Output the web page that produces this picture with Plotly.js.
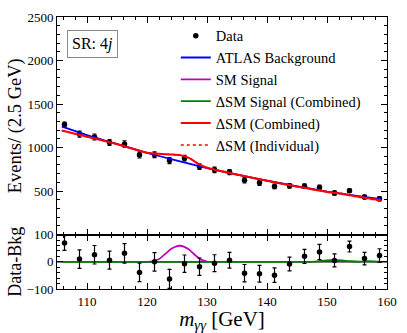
<!DOCTYPE html>
<html>
<head>
<meta charset="utf-8">
<script src="https://cdn.plot.ly/plotly-3.0.1.min.js"></script>
<style>
  html, body { margin: 0; padding: 0; background: #fff; }
  #plot { width: 407px; height: 333px; }
</style>
</head>
<body>
<div id="plot"></div>
<script>
// Bin centres (2.5 GeV bins) and values
let massBins = [106.25, 108.75, 111.25, 113.75, 116.25, 118.75, 121.25, 123.75, 126.25, 128.75, 131.25,
                133.75, 136.25, 138.75, 141.25, 143.75, 146.25, 148.75, 151.25, 153.75, 156.25, 158.75];
let eventCounts = [1266, 1155, 1122, 1059, 1042, 914, 918, 851, 878, 780, 744,
                   719, 625, 596, 554, 560, 556, 540, 478, 505, 432, 413];
let residuals = [69, 10, 26, 6, 31, -39, 0, -63, -7, -18, -5,
                 6, -42, -44, -49, -8, 20, 36, 5, 56, 12, 23];
let errors = [27, 34, 34, 33, 36, 34, 34, 35, 32, 32, 31,
              29, 32, 31, 27, 25, 26, 28, 24, 20, 23, 25];

// Fit curves (top panel)
let bkgMass = [105.8, 110, 115, 120, 125, 130, 135, 140, 145, 150, 155, 159];
let bkgCurve = [1240, 1143, 1040, 940, 850, 765, 690, 620, 555, 495, 445, 408];
let combMass = [105.8, 110, 115, 120, 122, 124, 125.5, 127, 128.5, 130, 135, 140, 145, 150, 152, 155, 159];
let combinedCurve = [1196, 1125, 1040, 940, 928, 921, 913, 882, 815, 768, 690, 618, 552, 490, 472, 438, 395];
let individualCurve = [1196, 1125, 1040, 940, 928, 921, 913, 882, 815, 768, 690, 618, 550, 498, 480, 432, 386];

// Signal curves (residual panel)
let smMass = [119, 120, 121, 122, 123, 124, 125, 125.5, 126, 127, 128, 129, 130];
let smSignal = [0, 0, 2, 10, 28, 47, 58, 59, 57, 45, 25, 8, 1];
let dsmMass = [105.8, 146, 148, 149.5, 151, 152.5, 154, 155.5, 157, 158.5, 159];
let dsmSignal = [0, 0, 1, 4, 7, 5, 2, 1, 2, 1, 0];

let serif = "Liberation Serif";

let traces = [
    {
        x: massBins, y: eventCounts, mode: 'markers', name: 'Data',
        marker: { color: 'black', size: 5.5 },
        error_y: { type: 'data', array: errors, color: 'black', thickness: 1.2, width: 2 },
        xaxis: 'x', yaxis: 'y'
    },
    {
        x: bkgMass, y: bkgCurve, mode: 'lines', name: 'ATLAS Background',
        line: { color: 'blue', width: 1.8, shape: 'spline', smoothing: 0.6 }, xaxis: 'x', yaxis: 'y'
    },
    {
        x: smMass, y: smSignal, mode: 'lines', name: 'SM Signal',
        line: { color: '#c000c0', width: 1.8, shape: 'spline', smoothing: 0.6 },
        xaxis: 'x2', yaxis: 'y2'
    },
    {
        x: dsmMass, y: dsmSignal, mode: 'lines', name: '\u0394SM Signal (Combined)',
        line: { color: 'green', width: 1.8, shape: 'spline', smoothing: 0.6 }, xaxis: 'x2', yaxis: 'y2'
    },
    {
        x: combMass, y: combinedCurve, mode: 'lines', name: '\u0394SM (Combined)',
        line: { color: 'red', width: 2, shape: 'spline', smoothing: 0.6 }, xaxis: 'x', yaxis: 'y'
    },
    {
        x: combMass, y: individualCurve, mode: 'lines', name: '\u0394SM (Individual)',
        line: { color: 'red', width: 1.5, dash: 'dot', shape: 'spline', smoothing: 0.6 }, xaxis: 'x', yaxis: 'y'
    },
    {
        x: massBins, y: residuals, mode: 'markers', showlegend: false,
        marker: { color: 'black', size: 5.5 },
        error_y: { type: 'data', array: errors, color: 'black', thickness: 1.2, width: 2 },
        xaxis: 'x2', yaxis: 'y2'
    }
];

let axisCommon = {
    showline: true, linecolor: 'black', linewidth: 1, mirror: 'ticks',
    ticks: 'inside', ticklen: 6, tickcolor: 'black', showgrid: false, zeroline: false,
    tickfont: { family: serif, size: 13, color: 'black' }
};

let layout = {
    width: 407, height: 333,
    margin: { l: 57, r: 20, t: 17, b: 44 },
    paper_bgcolor: 'white', plot_bgcolor: 'white',
    font: { family: serif, color: 'black' },
    xaxis: Object.assign({}, axisCommon, {
        range: [105, 160], dtick: 10, tick0: 100,
        minor: { ticks: 'inside', ticklen: 3, dtick: 2, tickcolor: 'black' },
        showticklabels: false, anchor: 'y', matches: 'x2'
    }),
    yaxis: Object.assign({}, axisCommon, {
        domain: [0.2, 1], range: [0, 2500], tickvals: [500, 1000, 1500, 2000, 2500],
        minor: { ticks: 'inside', ticklen: 3, dtick: 100, tick0: 0, tickcolor: 'black' },
        title: { text: 'Events/ (2.5 GeV)', font: { family: serif, size: 18.5 }, standoff: 0 }
    }),
    xaxis2: Object.assign({}, axisCommon, {
        range: [105, 160], dtick: 10, tick0: 100,
        minor: { ticks: 'inside', ticklen: 3, dtick: 2, tickcolor: 'black' },
        anchor: 'y2',
        title: { text: '<i>m</i><sub><i>\u03b3\u03b3</i></sub> [GeV]', font: { family: serif, size: 21 }, standoff: 4 }
    }),
    yaxis2: Object.assign({}, axisCommon, {
        domain: [0, 0.2], range: [-100, 100], dtick: 100,
        minor: { ticks: 'inside', ticklen: 3, dtick: 20, tick0: 0, tickcolor: 'black' },
        anchor: 'x2',
        title: { text: 'Data-Bkg', font: { family: serif, size: 18 }, standoff: 0 }
    }),
    showlegend: true,
    legend: {
        x: 0.36, y: 0.99, xanchor: 'left', yanchor: 'top',
        bgcolor: 'rgba(0,0,0,0)', font: { family: serif, size: 14.5 },
        itemwidth: 30, tracegroupgap: 0
    },
    shapes: [
        { type: 'line', xref: 'x2 domain', yref: 'y2', x0: 0, x1: 1, y0: 0, y1: 0,
          line: { color: 'black', width: 1.2 }, layer: 'below' }
    ],
    annotations: [
        { xref: 'paper', yref: 'paper', x: 0.108, y: 0.9, xanchor: 'center', yanchor: 'middle',
          text: 'SR: 4<i>j</i>', showarrow: false,
          font: { family: serif, size: 16, color: 'black' },
          bordercolor: '#888', borderwidth: 1, borderpad: 4, bgcolor: 'white' }
    ]
};

Plotly.newPlot("plot", traces, layout, { displayModeBar: false, staticPlot: true });
</script>
</body>
</html>
